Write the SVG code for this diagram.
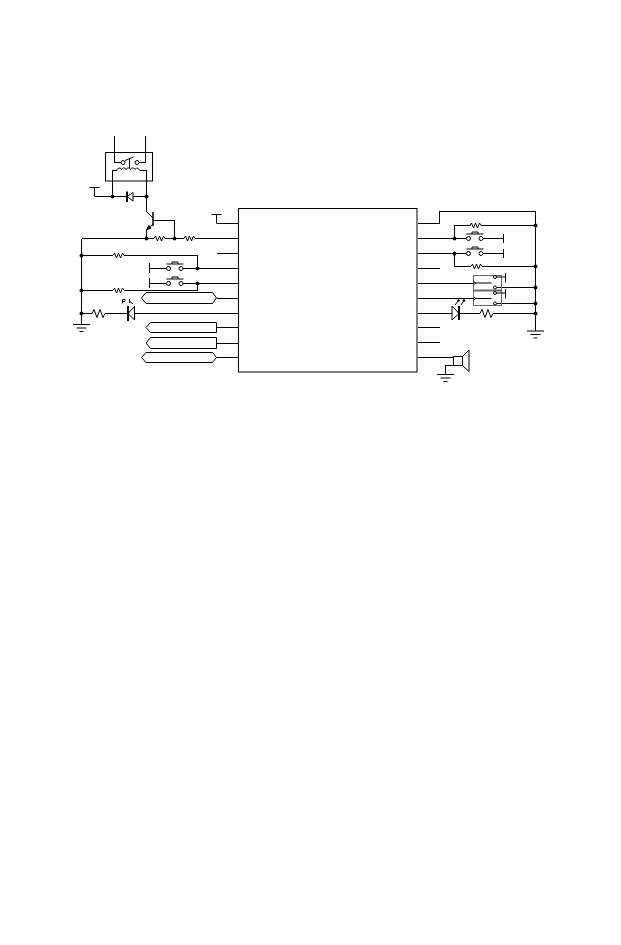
<svg xmlns="http://www.w3.org/2000/svg" width="621" height="945" viewBox="0 0 621 945">
<style>
.w,.n path,.n rect,.n circle,.n line{fill:none;stroke:#000;stroke-width:1}
.w{shape-rendering:crispEdges}
.n .f{fill:#000}
.n .g{stroke:#666}
.n .gt{stroke:#666;stroke-width:2}
.n .t{stroke-width:2}
.n .th{stroke-width:1.500}
.n circle.d{fill:#000;stroke:none}
</style>
<defs>
<g id="res" class="n"><path d="M0 0h2l1.500-2.500 2 5 2-5 2 5 2-5 1.500 2.500h1"/></g>
<g id="sw" class="n"><circle cx="0" cy="0" r="2"/><circle cx="12.500" cy="0" r="2"/><path d="M-2-4.500h17M3.500-4.500v-2h6v2"/></g>
<g id="gnd" class="n"><path d="M-8.500 0h17M-5 3.500h10M-2 7h4"/></g>
<g id="vcc" class="n"><path d="M-5 0h10M0 0v9"/></g>
</defs>
<rect width="621" height="945" fill="#fff"/>
<g id="connectors">
<path class="w" d="M114.500 136V162.500H121M145.500 136V162.500H139M117 170.500H112.500V196.500M140 170.500H146.500V211.500M94.500 196.500H127M133 196.500H146.500"/>
<path class="w" d="M153 220.500H174.500V238.500M146.500 230V238.500M81.500 238.500H153M165.500 238.500H183M196 238.500H238.500M81.500 238.500V313"/>
<path class="w" d="M216.500 223.500H238.500M216.500 253.500H238.500M81.500 255.500H112M125 255.500H197.500V268.500M149.500 268.500H166M183 268.500H238.500M149.500 283.500H166M183 283.500H238.500M197.500 283.500V290.500H125M112 290.500H81.500"/>
<path class="w" d="M216.500 298.500H238.500M81.500 313.500H90M108 313.500H128M134 313.500H238.500M81.500 313V324.500M216.500 327.500H238.500M216.500 343.500H238.500M216.500 357.500H238.500"/>
<path class="w" d="M417.500 223.500H439.500V211.500H535.500V331M417.500 238.500H466M483 238.500H503.500M454.500 238.500V225.500H469M482 225.500H535.500M417.500 253.500H466M483 253.500H503.500M454.500 253.500V266.500H470M483 266.500H535.500M417.500 268.500H440"/>
<path class="w" d="M417.500 283.500H473M417.500 298.500H473M417.500 313.500H452M459 313.500H478M496 313.500H535.500M497 287.500H535.500M497 303.500H535.500M417.500 327.500H440M417.500 342.500H440M417.500 357.500H453.500M453.500 365.500H445.500V374.500"/>
</g>
<g id="chip" class="n"><rect x="238.500" y="208.500" width="178.500" height="163.500"/></g>
<g id="relay" class="n"><rect x="105.500" y="152.500" width="47" height="28.500"/><circle cx="123" cy="162.500" r="2"/><circle cx="137" cy="162.500" r="2"/><path d="M125 160.500L133.500 157M129.500 159v9"/><path d="M117 170.500c0-3 4-3 4.500-1 .5-2 4-2 4.500 0 .5-2 4-2 4.500 0 .5-2 4-2 4.500 0 .5-2 4-2 4.500 1"/></g>
<g id="vcc1" class="n"><use href="#vcc" x="94.500" y="187.500"/></g>
<g id="vcc2" class="n"><use href="#vcc" x="216.500" y="214.500"/></g>
<g id="diode1" class="n"><path d="M127 196.500L133 192.500V201Z"/><line class="t" x1="127" y1="191.500" x2="127" y2="202"/></g>
<g id="transistor" class="n"><line class="th" x1="153" y1="212" x2="153" y2="226"/><path d="M146.500 211.500L153 218M153 224L146.500 230"/><path class="f" d="M146.500 230L149 225.500L151 228Z"/></g>
<g id="r1" class="n"><use href="#res" x="152" y="238.500"/></g>
<g id="r2" class="n"><use href="#res" x="182" y="238.500"/></g>
<g id="r3" class="n"><use href="#res" x="111" y="255.500"/></g>
<g id="r4" class="n"><use href="#res" x="111" y="290.500"/></g>
<g id="r5" class="n"><path d="M90 313.500h2l2-4 3 8 3-8 3 8 2-4h3"/></g>
<g id="sw1" class="n"><line x1="149.500" y1="263" x2="149.500" y2="273"/><use href="#sw" x="168.500" y="268.500"/></g>
<g id="sw2" class="n"><line x1="149.500" y1="278" x2="149.500" y2="288"/><use href="#sw" x="168.500" y="283.500"/></g>
<g id="bus1" class="n"><path d="M141.500 298L146 292.500H212.500L216.500 298L212.500 303.500H146Z"/></g>
<g id="led1" class="n"><path d="M128 313.500L134.500 306.500V320Z"/><line class="t" x1="128" y1="306" x2="128" y2="321"/><path d="M122.500 303.500V299.500h2.500v2h-2.500M129 299.500h1M129.500 299.500v3.500M130 301.500L133 304"/></g>
<g id="gnd1" class="n"><use href="#gnd" x="81.500" y="324.500"/></g>
<g id="bus2" class="n"><path d="M146 327.500L150.500 322.500H216.500V332.500H150.500Z"/></g>
<g id="bus3" class="n"><path d="M146 343L150.500 337.500H216.500V348.500H150.500Z"/></g>
<g id="bus4" class="n"><path d="M141.500 357.500L146 352.500H212.500L216.500 357.500L212.500 362.500H146Z"/></g>
<g id="r6" class="n"><use href="#res" x="468" y="225.500"/></g>
<g id="r7" class="n"><use href="#res" x="469" y="266.500"/></g>
<g id="sw3" class="n"><use href="#sw" x="468.500" y="238.500"/><line x1="503.500" y1="234" x2="503.500" y2="243"/></g>
<g id="sw4" class="n"><use href="#sw" x="468.500" y="253.500"/><line x1="503.500" y1="249" x2="503.500" y2="258"/></g>
<g id="relay2" class="n"><rect class="g" x="473.500" y="275.500" width="28" height="30"/><line class="gt" x1="473.500" y1="290.500" x2="501.500" y2="290.500"/><circle cx="474.500" cy="283" r="1"/><circle cx="474.500" cy="298.500" r="1"/><path d="M475.500 283H491.500M475.500 298.500H491.500M497 277H505.500M497 293H505.500M505.500 273V282.500M505.500 289V298.500"/><circle cx="495" cy="277" r="1.500"/><circle cx="495" cy="287.500" r="1.500"/><circle cx="495" cy="293" r="1.500"/><circle cx="495" cy="303.500" r="1.500"/></g>
<g id="led2" class="n"><path d="M452 306V320L459 313.500Z"/><line class="t" x1="459" y1="306" x2="459" y2="320"/><path d="M455 305L458.500 300.500M461 305L464 300.500"/><circle class="d" cx="458.500" cy="300.500" r="1.200"/><circle class="d" cx="464" cy="300.500" r="1.200"/></g>
<g id="r8" class="n"><path d="M478 313.500h2l2-4 3 8 3-8 3 8 2-4h3"/></g>
<g id="gnd2" class="n"><use href="#gnd" x="535.500" y="331"/></g>
<g id="speaker" class="n"><rect x="453.500" y="356.500" width="9" height="9"/><path d="M462.500 356.500L469 350V371.500L462.500 365.500"/></g>
<g id="gnd3" class="n"><use href="#gnd" x="445.500" y="374.500"/></g>
<g id="junctions" class="n">
<circle class="d" cx="112.500" cy="196.500" r="2"/><circle class="d" cx="146.500" cy="196.500" r="2"/><circle class="d" cx="146.500" cy="238.500" r="2"/><circle class="d" cx="174.500" cy="238.500" r="2"/><circle class="d" cx="81.500" cy="255.500" r="2"/><circle class="d" cx="81.500" cy="290.500" r="2"/><circle class="d" cx="81.500" cy="313.500" r="2"/><circle class="d" cx="197.500" cy="268.500" r="2"/><circle class="d" cx="197.500" cy="283.500" r="2"/><circle class="d" cx="454.500" cy="238.500" r="2"/><circle class="d" cx="454.500" cy="253.500" r="2"/><circle class="d" cx="535.500" cy="225.500" r="2"/><circle class="d" cx="535.500" cy="266.500" r="2"/><circle class="d" cx="535.500" cy="287.500" r="2"/><circle class="d" cx="535.500" cy="303.500" r="2"/><circle class="d" cx="535.500" cy="313.500" r="2"/>
</g>
</svg>
